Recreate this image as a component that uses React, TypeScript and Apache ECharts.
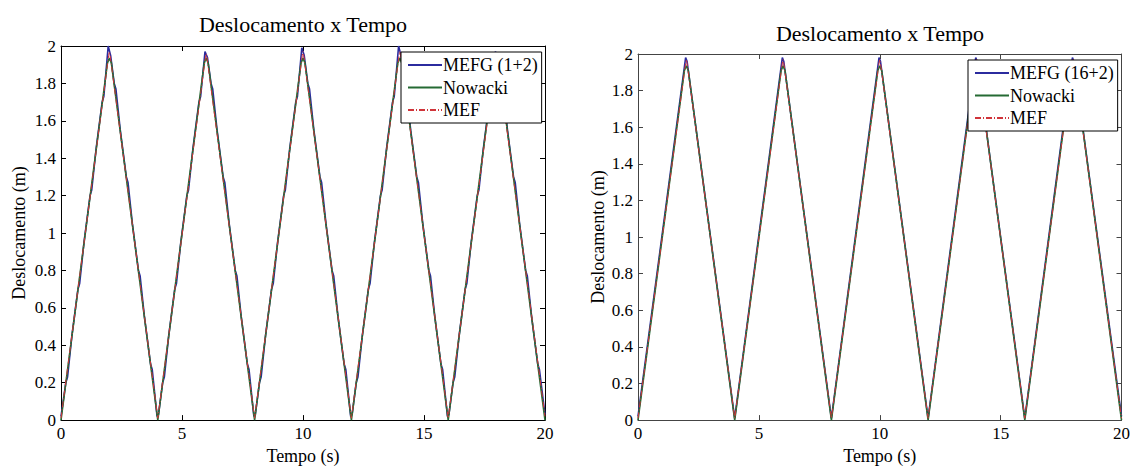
import React, { useEffect, useRef } from "react";
import * as echarts from "echarts";

const FONT = "'Liberation Serif', 'Times New Roman', Times, serif";

const titleText = "Deslocamento x Tempo";
const xName = "Tempo (s)";
const yName = "Deslocamento (m)";
const leftLegend = ["MEFG (1+2)", "Nowacki", "MEF"];
const rightLegend = ["MEFG (16+2)", "Nowacki", "MEF"];

const leftMefg: number[][] = [
  [0, 0.02], [0.2, 0.2], [0.27, 0.23], [0.45, 0.45], [0.7, 0.7], [0.77, 0.73], [0.95, 0.95], [1.2, 1.2], [1.27, 1.23], [1.45, 1.45], [1.7, 1.7], [1.77, 1.73], [1.95, 2.0], [2.05, 1.95], [2.2, 1.8], [2.27, 1.77], [2.45, 1.55], [2.7, 1.3], [2.77, 1.27], [2.95, 1.05], [3.2, 0.8], [3.27, 0.77], [3.45, 0.55], [3.7, 0.3], [3.77, 0.27], [3.97, 0.02],
  [4.03, 0.03], [4.2, 0.2], [4.27, 0.23], [4.45, 0.45], [4.7, 0.7], [4.77, 0.73], [4.95, 0.95], [5.2, 1.2], [5.27, 1.23], [5.45, 1.45], [5.7, 1.7], [5.77, 1.73], [5.95, 1.97], [6.05, 1.94], [6.2, 1.8], [6.27, 1.77], [6.45, 1.55], [6.7, 1.3], [6.77, 1.27], [6.95, 1.05], [7.2, 0.8], [7.27, 0.77], [7.45, 0.55], [7.7, 0.3], [7.77, 0.27], [7.97, 0.02],
  [8.03, 0.03], [8.2, 0.2], [8.27, 0.23], [8.45, 0.45], [8.7, 0.7], [8.77, 0.73], [8.95, 0.95], [9.2, 1.2], [9.27, 1.23], [9.45, 1.45], [9.7, 1.7], [9.77, 1.73], [9.95, 1.99], [10.05, 1.95], [10.2, 1.8], [10.27, 1.77], [10.45, 1.55], [10.7, 1.3], [10.77, 1.27], [10.95, 1.05], [11.2, 0.8], [11.27, 0.77], [11.45, 0.55], [11.7, 0.3], [11.77, 0.27], [11.97, 0.02],
  [12.03, 0.03], [12.2, 0.2], [12.27, 0.23], [12.45, 0.45], [12.7, 0.7], [12.77, 0.73], [12.95, 0.95], [13.2, 1.2], [13.27, 1.23], [13.45, 1.45], [13.7, 1.7], [13.77, 1.73], [13.95, 2.0], [14.05, 1.95], [14.2, 1.8], [14.27, 1.77], [14.45, 1.55], [14.7, 1.3], [14.77, 1.27], [14.95, 1.05], [15.2, 0.8], [15.27, 0.77], [15.45, 0.55], [15.7, 0.3], [15.77, 0.27], [15.97, 0.02],
  [16.03, 0.03], [16.2, 0.2], [16.27, 0.23], [16.45, 0.45], [16.7, 0.7], [16.77, 0.73], [16.95, 0.95], [17.2, 1.2], [17.27, 1.23], [17.45, 1.45], [17.7, 1.7], [17.77, 1.73], [17.95, 1.97], [18.05, 1.94], [18.2, 1.8], [18.27, 1.77], [18.45, 1.55], [18.7, 1.3], [18.77, 1.27], [18.95, 1.05], [19.2, 0.8], [19.27, 0.77], [19.45, 0.55], [19.7, 0.3], [19.77, 0.27], [20, 0.03],
];

const leftNowacki: number[][] = [
  [0, 0], [1.92, 1.91], [2, 1.935], [2.08, 1.91], [4, 0],
  [5.92, 1.91], [6, 1.935], [6.08, 1.91], [8, 0],
  [9.92, 1.91], [10, 1.935], [10.08, 1.91], [12, 0],
  [13.92, 1.91], [14, 1.935], [14.08, 1.91], [16, 0],
  [17.92, 1.91], [18, 1.935], [18.08, 1.91], [20, 0],
];

const leftMef: number[][] = [
  [0, 0.01], [1.97, 1.95], [2, 1.97], [2.03, 1.95], [4, 0.01],
  [5.97, 1.94], [6, 1.96], [6.03, 1.94], [8, 0.01],
  [9.97, 1.95], [10, 1.97], [10.03, 1.95], [12, 0.01],
  [13.97, 1.95], [14, 1.97], [14.03, 1.95], [16, 0.01],
  [17.97, 1.94], [18, 1.96], [18.03, 1.94], [20, 0.02],
];

const rightMefg: number[][] = [
  [0, 0.02], [1.97, 1.98], [2.03, 1.96], [4, 0.01], [5.97, 1.98], [6.03, 1.96], [8, 0.01], [9.97, 1.98], [10.03, 1.96], [12, 0.01], [13.97, 1.98], [14.03, 1.96], [16, 0.01], [17.97, 1.98], [18.03, 1.96], [20, 0.02],
];

const rightNowacki: number[][] = [
  [0, 0], [1.92, 1.91], [2, 1.935], [2.08, 1.91], [4, 0],
  [5.92, 1.91], [6, 1.935], [6.08, 1.91], [8, 0],
  [9.92, 1.91], [10, 1.935], [10.08, 1.91], [12, 0],
  [13.92, 1.91], [14, 1.935], [14.08, 1.91], [16, 0],
  [17.92, 1.91], [18, 1.935], [18.08, 1.91], [20, 0],
];

const rightMef: number[][] = [
  [0, 0.01], [1.97, 1.95], [2, 1.97], [2.03, 1.95], [4, 0.01],
  [5.97, 1.95], [6, 1.97], [6.03, 1.95], [8, 0.01],
  [9.97, 1.95], [10, 1.97], [10.03, 1.95], [12, 0.01],
  [13.97, 1.95], [14, 1.97], [14.03, 1.95], [16, 0.01],
  [17.97, 1.95], [18, 1.97], [18.03, 1.95], [20, 0.01],
];

const BLUE = "#2b2b9e";
const GREEN = "#256a33";
const RED = "#d0343a";

function xAxes(gridIndex: number, color: string, nameGap: number) {
  const common = {
    type: "value" as const,
    gridIndex,
    min: 0,
    max: 20,
    interval: 5,
    splitLine: { show: false },
    axisLine: { show: true, onZero: false, lineStyle: { color, width: 1 } },
    axisTick: { show: true, inside: true, length: 5, lineStyle: { color } },
  };
  return [
    {
      ...common,
      position: "bottom",
      axisLabel: { fontFamily: FONT, fontSize: 17, fontWeight: "normal", color: "#000", margin: 5 },
      name: xName,
      nameLocation: "middle",
      nameGap,
      nameTextStyle: { fontFamily: FONT, fontSize: 18, fontWeight: "normal", color: "#000" },
    },
    { ...common, position: "top", axisLabel: { show: false } },
  ];
}

function yAxes(gridIndex: number, color: string, nameGap: number) {
  const common = {
    type: "value" as const,
    gridIndex,
    min: 0,
    max: 2,
    interval: 0.2,
    splitLine: { show: false },
    axisLine: { show: true, onZero: false, lineStyle: { color, width: 1 } },
    axisTick: { show: true, inside: true, length: 5, lineStyle: { color } },
  };
  return [
    {
      ...common,
      position: "left",
      axisLabel: {
        fontFamily: FONT,
        fontSize: 17,
        fontWeight: "normal",
        color: "#000",
        margin: 5,
        formatter: (v: number) => String(Number(v.toFixed(1))),
      },
      name: yName,
      nameLocation: "middle",
      nameGap,
      nameTextStyle: { fontFamily: FONT, fontSize: 18, fontWeight: "normal", color: "#000" },
    },
    { ...common, position: "right", axisLabel: { show: false } },
  ];
}

function series(name: string, data: number[][], idx: number, color: string, width: number, type: any) {
  return {
    type: "line",
    name,
    data,
    xAxisIndex: idx,
    yAxisIndex: idx,
    symbol: "none",
    showSymbol: false,
    lineStyle: { color, width, type },
    itemStyle: { color },
    z: 2,
  };
}

function legend(data: string[], left: number, top: number) {
  return {
    data,
    orient: "vertical",
    left,
    top,
    itemWidth: 34,
    itemHeight: 14,
    itemGap: 4.5,
    padding: [4, 4, 4, 6],
    borderColor: "#000",
    borderWidth: 1,
    backgroundColor: "#fff",
    borderRadius: 0,
    selectedMode: false,
    itemStyle: { opacity: 0 },
    textStyle: { fontFamily: FONT, fontSize: 18, fontWeight: "normal", color: "#000", lineHeight: 18, padding: [0, 0, 0, -4] },
    z: 10,
  };
}

const option: any = {
  animation: false,
  backgroundColor: "#fff",
  textStyle: { fontFamily: FONT },
  title: [
    {
      text: titleText,
      left: 303,
      top: 13,
      textAlign: "center",
      padding: 0,
      textStyle: { fontFamily: FONT, fontSize: 22, fontWeight: "normal", color: "#000" },
    },
    {
      text: titleText,
      left: 880,
      top: 22,
      textAlign: "center",
      padding: 0,
      textStyle: { fontFamily: FONT, fontSize: 22, fontWeight: "normal", color: "#000" },
    },
  ],
  grid: [
    { left: 61, top: 46, width: 484, height: 384, containLabel: false },
    { left: 638, top: 54, width: 484, height: 374, containLabel: false },
  ],
  xAxis: [...xAxes(0, "#000", 24), ...xAxes(1, "#444", 21)],
  yAxis: [...yAxes(0, "#000", 33), ...yAxes(1, "#444", 31)],
  legend: [legend(leftLegend, 401, 52), legend(rightLegend, 968, 60)],
  series: [
    series(leftLegend[0], leftMefg, 0, BLUE, 1.6, "solid"),
    series(leftLegend[1], leftNowacki, 0, GREEN, 1.6, "solid"),
    series(leftLegend[2], leftMef, 0, RED, 1, [6, 2, 1, 2]),
    series(rightLegend[0], rightMefg, 2, BLUE, 1.6, "solid"),
    series(rightLegend[1], rightNowacki, 2, GREEN, 1.6, "solid"),
    series(rightLegend[2], rightMef, 2, RED, 1, [6, 2, 1, 2]),
  ],
};

export default function App() {
  const ref = useRef<HTMLDivElement>(null);
  useEffect(() => {
    const chart = echarts.init(ref.current!, null, { renderer: "svg" });
    chart.setOption(option);
    return () => chart.dispose();
  }, []);
  return (
    <div
      ref={ref}
      style={{ position: "absolute", left: 0, top: 0, width: 1133, height: 470 }}
    />
  );
}
